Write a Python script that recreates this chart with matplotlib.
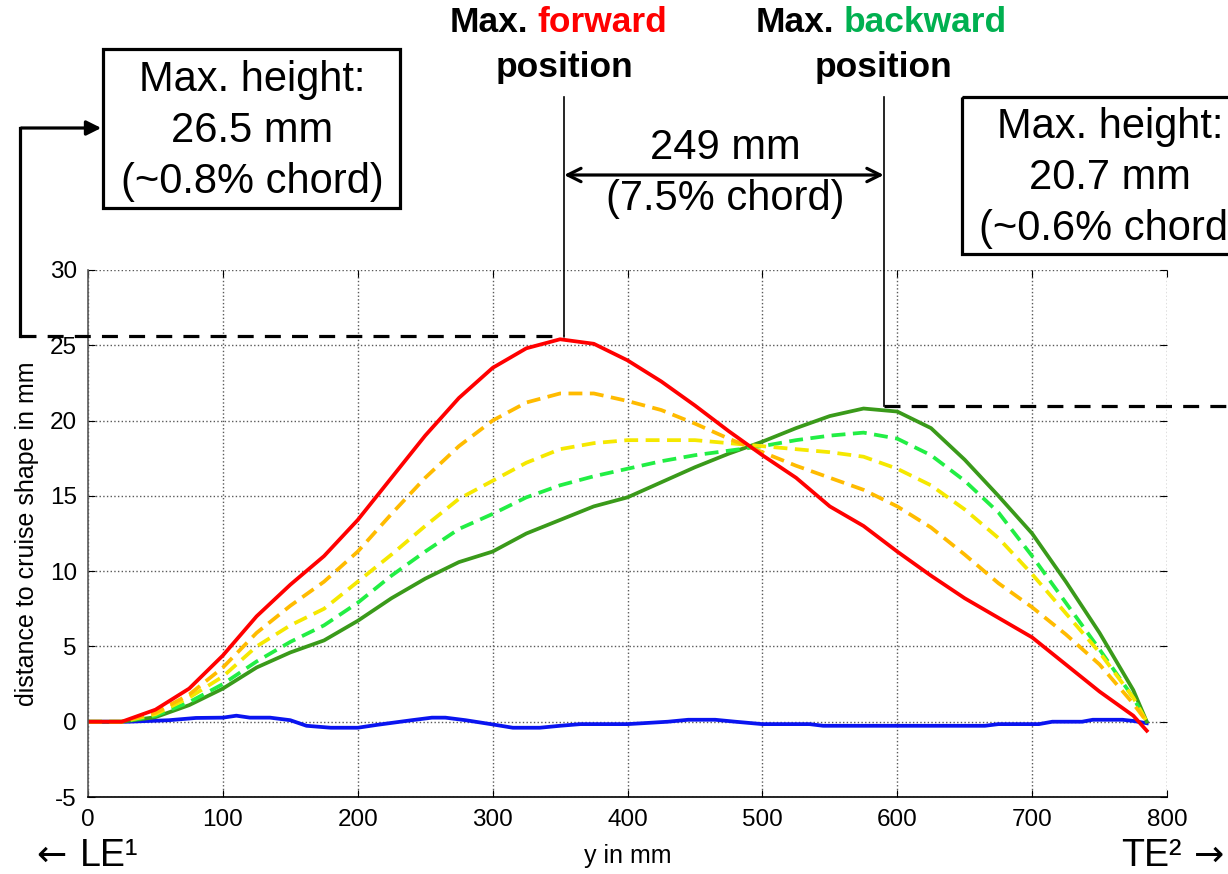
import numpy as np
import matplotlib
matplotlib.use("Agg")
import matplotlib.pyplot as plt
from matplotlib.transforms import Affine2D
from matplotlib.patches import Rectangle, FancyArrowPatch
from matplotlib.lines import Line2D

plt.rcParams['font.family'] = ['Liberation Sans', 'DejaVu Sans']
plt.rcParams['axes.unicode_minus'] = False

# chordwise position in mm
x_mm = [0, 25, 50, 75, 100, 125, 150, 175, 200, 225, 250, 275, 300, 325, 350, 375,
        400, 425, 450, 475, 500, 525, 550, 575, 600, 625, 650, 675, 700, 725, 750,
        775, 785]

fwd_max = [0, 0, 0.8, 2.2, 4.4, 7.0, 9.1, 11.0, 13.4, 16.2, 19.0, 21.5, 23.5, 24.8, 25.4, 25.1,
           24.0, 22.6, 21.0, 19.3, 17.7, 16.2, 14.3, 13.0, 11.3, 9.7, 8.2, 6.9, 5.6, 3.8, 2.0,
           0.4, -0.6]
fwd_mid = [0, 0, 0.6, 1.8, 3.6, 5.9, 7.7, 9.3, 11.3, 13.8, 16.2, 18.3, 20.0, 21.2, 21.8, 21.8,
           21.3, 20.7, 19.8, 18.8, 17.9, 17.0, 16.2, 15.4, 14.3, 12.9, 11.1, 9.2, 7.6, 5.8, 3.8,
           1.2, 0]
neutral = [0, 0, 0.5, 1.6, 3.0, 5.0, 6.4, 7.5, 9.3, 11.1, 13.0, 14.8, 16.0, 17.2, 18.1, 18.5,
           18.7, 18.7, 18.7, 18.5, 18.3, 18.1, 17.9, 17.6, 16.8, 15.7, 14.1, 12.2, 9.8, 7.2, 4.6,
           1.6, 0]
bwd_mid = [0, 0, 0.4, 1.3, 2.5, 4.0, 5.3, 6.4, 7.9, 9.7, 11.3, 12.8, 13.8, 14.9, 15.7, 16.3,
           16.8, 17.3, 17.7, 18.0, 18.3, 18.7, 19.0, 19.2, 18.8, 17.7, 16.0, 13.9, 11.0, 7.9, 4.8,
           1.6, 0]
bwd_max = [0, 0, 0.3, 1.1, 2.2, 3.6, 4.6, 5.4, 6.7, 8.2, 9.5, 10.6, 11.3, 12.5, 13.4, 14.3,
           14.9, 15.9, 16.9, 17.8, 18.6, 19.5, 20.3, 20.8, 20.6, 19.5, 17.4, 15.0, 12.5, 9.3, 5.9,
           2.1, 0]

cruise_x = [0, 30, 60, 80, 100, 110, 120, 135, 150, 162, 180, 200, 215, 240, 255, 265, 280,
            300, 315, 335, 350, 365, 400, 430, 445, 465, 480, 500, 535, 545, 665, 675, 705,
            715, 737, 745, 767, 775, 785]
cruise_y = [0, 0, 0.1, 0.25, 0.27, 0.4, 0.27, 0.27, 0.1, -0.27, -0.4, -0.4, -0.2, 0.1, 0.27,
            0.27, 0.1, -0.18, -0.4, -0.4, -0.27, -0.16, -0.16, 0, 0.13, 0.13, 0, -0.16, -0.16,
            -0.27, -0.27, -0.16, -0.16, 0, 0, 0.13, 0.13, 0.05, -0.1]

# marked peak positions (mm) and heights used for the annotation lines
fwd_peak = (353, 25.6)
bwd_peak = (590, 21.0)

x_ticks = [0, 100, 200, 300, 400, 500, 600, 700, 800]
y_ticks = [-5, 0, 5, 10, 15, 20, 25, 30]

W, H = 1228, 874
fig = plt.figure(figsize=(W / 100, H / 100), dpi=100)
# pixel coordinates measured from the top-left corner
px = Affine2D().scale(1 / W, -1 / H).translate(0, 1) + fig.transFigure

ax = fig.add_axes([88 / W, 1 - 797 / H, (1167 - 88) / W, (797 - 270) / H])
ax.set_xlim(0, 800)
ax.set_ylim(-5, 30)
ax.set_xticks(x_ticks)
ax.set_yticks(y_ticks)
ax.grid(True, linestyle=':', linewidth=1.0, color='0.35')
ax.tick_params(direction='in', length=5, labelsize=17.5, top=True, right=True,
               color='black', pad=9)
ax.tick_params(axis='y', pad=8)
for s in ['top', 'right']:
    ax.spines[s].set_visible(False)
ax.spines['left'].set_color('0.35')
ax.spines['bottom'].set_color('black')
ax.spines['left'].set_linewidth(1.2)
ax.spines['bottom'].set_linewidth(1.2)

lw = 2.7
ax.plot(cruise_x, cruise_y, color='#0a14f0', lw=lw)
ax.plot(x_mm, bwd_max, color='#3a9a1a', lw=lw)
ax.plot(x_mm, bwd_mid, color='#22ee44', lw=lw, dashes=(3.7, 2.0))
ax.plot(x_mm, neutral, color='#f5e800', lw=lw, dashes=(3.7, 2.0))
ax.plot(x_mm, fwd_mid, color='#ffbb00', lw=lw, dashes=(3.7, 2.0))
ax.plot(x_mm, fwd_max, color='#ff0000', lw=lw)

ax.set_xlabel('y in mm', fontsize=18, labelpad=9)
ax.set_ylabel('distance to cruise shape in mm', fontsize=18, labelpad=8)

to_px = ax.transData + px.inverted()
fx, fy = to_px.transform(fwd_peak)
bx, by = to_px.transform(bwd_peak)

def line(xs, ys, **kw):
    fig.add_artist(Line2D(xs, ys, transform=px, clip_on=False, **kw))

dash = dict(color='black', lw=2.3, dashes=(5, 3.5))
line([20, fx], [fy, fy], **dash)
line([bx, W + 10], [by, by], **dash)
line([fx, fx], [97, fy], color='black', lw=1.2)
line([bx, bx], [97, by], color='black', lw=1.2)
line([20, 20], [fy, 128], color='black', lw=2.3)

fig.add_artist(FancyArrowPatch((18.5, 128), (104, 128), transform=px, arrowstyle='-|>',
                               mutation_scale=22, lw=2.3, color='black'))
fig.add_artist(FancyArrowPatch((fx, 175), (bx, 175), transform=px, arrowstyle='<->',
                               mutation_scale=24, lw=2.3, color='black',
                               shrinkA=0, shrinkB=0))

# boxes with maximum heights
fig.add_artist(Rectangle((103, 49), 297, 159, transform=px, fill=False, lw=2.3,
                         edgecolor='black'))
fig.add_artist(Rectangle((962, 97), 300, 157, transform=px, fill=False, lw=2.3,
                         edgecolor='black'))

big = 30
for txt, yy in [('Max. height:', 80), ('26.5 mm', 131), ('(~0.8% chord)', 182)]:
    fig.text(252, yy, txt, transform=px, fontsize=big, ha='center', va='center')
for txt, yy in [('Max. height:', 127), ('20.7 mm', 178), ('(~0.6% chord)', 229)]:
    fig.text(1110, yy, txt, transform=px, fontsize=big, ha='center', va='center')
fig.text(725, 148, '249 mm', transform=px, fontsize=big, ha='center', va='center')
fig.text(725, 199, '(7.5% chord)', transform=px, fontsize=big, ha='center', va='center')

bold = dict(transform=px, fontsize=25.5, fontweight='bold', va='center')
fig.text(528, 22, 'Max.', ha='right', color='black', **bold)
fig.text(537, 22, 'forward', ha='left', color='#ff0000', **bold)
fig.text(fx, 67, 'position', ha='center', color='black', **bold)
fig.text(834, 22, 'Max.', ha='right', color='black', **bold)
fig.text(844, 22, 'backward', ha='left', color='#00b050', **bold)
fig.text(bx, 67, 'position', ha='center', color='black', **bold)

fig.text(36, 856, '\u2190', transform=px, fontsize=26, ha='left', va='center',
         family='DejaVu Sans')
fig.text(80, 856, 'LE\u00b9', transform=px, fontsize=27, ha='left', va='center')
fig.text(1182, 856, 'TE\u00b2', transform=px, fontsize=27, ha='right', va='center')
fig.text(1224, 856, '\u2192', transform=px, fontsize=26, ha='right', va='center',
         family='DejaVu Sans')

fig.savefig('out.png', dpi=100)
